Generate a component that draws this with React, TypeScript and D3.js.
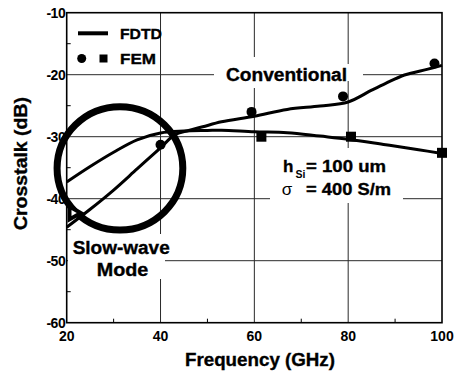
import React from "react";
import * as d3 from "d3";

// ---- data ----
const xTicks = [20, 40, 60, 80, 100];
const yTicks = [-60, -50, -40, -30, -20, -10];
const xMinor = [30, 50, 70, 90];
const yMinor = [-55, -45, -35, -25, -15];

// FDTD curve that starts high at 20 GHz and flattens (ends at ~ -32.7 dB)
const fdtdFlatFreq = [20, 25, 30, 35, 40, 45, 50, 53, 60, 67, 74, 80, 88, 95, 100];
const fdtdFlatDb = [-37.3, -34.8, -32.5, -30.5, -29.4, -29.1, -29.0, -28.95, -29.2, -29.35, -29.9, -30.4, -31.3, -32.1, -32.7];

// FDTD curve that starts low at 20 GHz and rises (ends at ~ -18.5 dB)
const fdtdRiseFreq = [20, 25, 30, 35, 40, 43, 46, 49, 53, 60, 67, 74, 80, 85, 88, 92, 97, 100];
const fdtdRiseDb = [-44.6, -41.7, -38.6, -35.2, -31.8, -29.7, -29.0, -28.4, -27.6, -26.7, -25.6, -25.05, -24.4, -22.5, -21.4, -20.05, -19.1, -18.5];

// FEM markers
const femCircleFreq = [40, 59.4, 78.9, 98.4];
const femCircleDb = [-31.3, -26.0, -23.5, -18.2];
const femSquareFreq = [61.5, 80.6, 100];
const femSquareDb = [-30.0, -30.0, -32.6];
const femTriangleFreq = [21.4];
const femTriangleDb = [-42.3];

// highlight ellipse (data units)
const ringCenter = [31.35, -35.1];
const ringRadius = [13.4, 9.95];

const W = 463;
const H = 377;
const FONT = "'Liberation Sans', Arial, Helvetica, sans-serif";

export default function App() {
  const x = d3.scaleLinear().domain([20, 100]).range([66.7, 442]);
  const y = d3.scaleLinear().domain([-60, -10]).range([322.7, 12.7]);
  const [x0, x1] = x.range();
  const [y0, y1] = [y(-10), y(-60)];

  const line = d3
    .line<[number, number]>()
    .x((d) => x(d[0]))
    .y((d) => y(d[1]))
    .curve(d3.curveCatmullRom.alpha(0.5));

  const flat: [number, number][] = fdtdFlatFreq.map((f, i) => [f, fdtdFlatDb[i]]);
  const rise: [number, number][] = fdtdRiseFreq.map((f, i) => [f, fdtdRiseDb[i]]);

  const tri = d3.symbol().type(d3.symbolTriangle).size(170)();
  const triInner = d3.symbol().type(d3.symbolTriangle).size(16)();

  const rx = Math.abs(x(ringCenter[0] + ringRadius[0]) - x(ringCenter[0]));
  const ry = Math.abs(y(ringCenter[1] + ringRadius[1]) - y(ringCenter[1]));

  const grid = "#2a2a2a";
  const heavy = { stroke: "#000", strokeWidth: 0.35 } as const;

  return (
    <svg
      width={W}
      height={H}
      viewBox={`0 0 ${W} ${H}`}
      style={{ position: "absolute", left: 0, top: 0, background: "#fff" }}
      fontFamily={FONT}
    >
      <rect x={0} y={0} width={W} height={H} fill="#fff" />
      {/* grid */}
      {xTicks.slice(1, -1).map((t) => (
        <line key={"gx" + t} x1={x(t)} x2={x(t)} y1={y0} y2={y1} stroke={grid} strokeWidth={1} />
      ))}
      {yTicks.slice(1, -1).map((t) => (
        <line key={"gy" + t} x1={x0} x2={x1} y1={y(t)} y2={y(t)} stroke={grid} strokeWidth={1} />
      ))}
      {/* minor ticks */}
      {xMinor.map((t) => (
        <line key={"mx" + t} x1={x(t)} x2={x(t)} y1={y1} y2={y1 - 4} stroke="#000" strokeWidth={1} />
      ))}
      {yMinor.map((t) => (
        <line key={"my" + t} x1={x0} x2={x0 + 4} y1={y(t)} y2={y(t)} stroke="#000" strokeWidth={1} />
      ))}
      {/* white label backgrounds that break the grid */}
      <rect x={214} y={57} width={133} height={31} fill="#fff" />
      <rect x={347} y={64} width={16} height={17} fill="#fff" />
      <rect x={270} y={148} width={133} height={55} fill="#fff" />
      <rect x={68} y={234} width={97} height={45} fill="#fff" />
      {/* frame */}
      <rect x={x0} y={y0} width={x1 - x0} height={y1 - y0} fill="none" stroke="#000" strokeWidth={1.6} />

      {/* FDTD curves */}
      <path d={line(flat) || ""} fill="none" stroke="#000" strokeWidth={3} strokeLinejoin="round" />
      <path d={line(rise) || ""} fill="none" stroke="#000" strokeWidth={3} strokeLinejoin="round" />

      {/* highlight ring */}
      <ellipse cx={x(ringCenter[0])} cy={y(ringCenter[1])} rx={rx} ry={ry} fill="none" stroke="#000" strokeWidth={7} />

      {/* FEM markers */}
      {femCircleFreq.map((f, i) => (
        <circle key={"c" + i} cx={x(f)} cy={y(femCircleDb[i])} r={5} fill="#000" />
      ))}
      {femSquareFreq.map((f, i) => (
        <rect key={"s" + i} x={x(f) - 5} y={y(femSquareDb[i]) - 5} width={10} height={10} fill="#000" />
      ))}
      {femTriangleFreq.map((f, i) => (
        <g key={"t" + i} transform={`translate(${x(f)},${y(femTriangleDb[i])}) rotate(90)`}>
          <path d={tri || ""} fill="#000" />
          <path d={triInner || ""} fill="#fff" />
        </g>
      ))}

      {/* legend */}
      <line x1={78} x2={108} y1={33.3} y2={33.3} stroke="#000" strokeWidth={4} />
      <text x={120} y={38.5} fontSize={15.5} fontWeight="bold" textLength={42} lengthAdjust="spacingAndGlyphs" {...heavy}>FDTD</text>
      <circle cx={81.7} cy={58.5} r={4.5} fill="#000" />
      <rect x={99.5} y={54.5} width={8} height={8} fill="#000" />
      <text x={120} y={64} fontSize={15.5} fontWeight="bold" textLength={36} lengthAdjust="spacingAndGlyphs" {...heavy}>FEM</text>

      {/* annotations */}
      <text x={226} y={80.5} fontSize={17.5} fontWeight="bold" textLength={121} lengthAdjust="spacingAndGlyphs" {...heavy}>Conventional</text>
      <text x={72.7} y={253.5} fontSize={18} fontWeight="bold" textLength={97} lengthAdjust="spacingAndGlyphs" {...heavy}>Slow-wave</text>
      <text x={96.7} y={275.5} fontSize={18} fontWeight="bold" textLength={51.6} lengthAdjust="spacingAndGlyphs" {...heavy}>Mode</text>
      <text x={283} y={171.7} fontSize={17} fontWeight="bold" {...heavy}>h</text>
      <text x={295.5} y={178} fontSize={10.5} fontWeight="bold">Si</text>
      <text x={306} y={171.7} fontSize={17} fontWeight="bold" textLength={80} lengthAdjust="spacingAndGlyphs" {...heavy}>= 100 um</text>
      <text x={281.7} y={195} fontSize={17}>σ</text>
      <text x={306} y={195} fontSize={17} fontWeight="bold" textLength={85} lengthAdjust="spacingAndGlyphs" {...heavy}>= 400 S/m</text>

      {/* tick labels */}
      {xTicks.map((t) => (
        <text key={"xl" + t} x={x(t)} y={340.5} fontSize={14} fontWeight="bold" textAnchor="middle">{t}</text>
      ))}
      {yTicks.map((t) => (
        <text key={"yl" + t} x={x0 - 1.5} y={y(t) + 5} fontSize={14} fontWeight="bold" textAnchor="end" letterSpacing={-0.5}>{t}</text>
      ))}

      {/* axis titles */}
      <text x={185} y={366} fontSize={18.5} fontWeight="bold" textLength={150} lengthAdjust="spacingAndGlyphs" {...heavy}>Frequency (GHz)</text>
      <text
        transform="translate(27,163.5) rotate(-90)"
        fontSize={18.5}
        fontWeight="bold"
        textAnchor="middle"
        textLength={133}
        lengthAdjust="spacingAndGlyphs"
        {...heavy}
      >
        Crosstalk (dB)
      </text>
    </svg>
  );
}
